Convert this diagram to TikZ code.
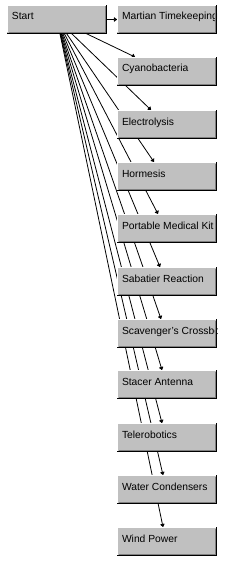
\documentclass[tikz,border=0pt]{standalone}
\usepackage{fontspec}
\setmainfont{Liberation Sans}
\usetikzlibrary{arrows.meta,calc,backgrounds}
\definecolor{face}{HTML}{C0C0C0}
\definecolor{btnshadow}{HTML}{808080}
\definecolor{ink}{HTML}{000000}
\tikzset{
  topic box/.style={draw=none,fill=face,inner sep=0pt,outer sep=0pt,anchor=north west,
    minimum width=100pt,minimum height=29pt,
    path picture={\node[anchor=base west,inner sep=0pt,minimum width=0pt,minimum height=0pt,
        fill=none,draw=none,font=\fontsize{10.3}{12}\selectfont,text=ink]
      at ([shift={(5pt,-15pt)}]path picture bounding box.north west) {#1};}},
  bevel light/.style={white,line width=1pt},
  bevel dark/.style={btnshadow,line width=1pt},
  bevel edge/.style={ink,line width=1pt},
  link/.style={ink,line width=.8pt,-{Latex[round,length=3.5pt,width=5.5pt]}}
}
\begin{document}
\begin{tikzpicture}[x=1pt,y=1pt]
  \path[use as bounding box] (0,0) rectangle (227,-567);

  \node[topic box=Start] (start) at (7,-5) {};
  \node[topic box={Martian Timekeeping}] (martian) at (117,-5) {};
  \node[topic box=Cyanobacteria] (cyano) at (117,-57) {};
  \node[topic box=Electrolysis] (electro) at (117,-110) {};
  \node[topic box=Hormesis] (hormesis) at (117,-162) {};
  \node[topic box={Portable Medical Kit}] (medkit) at (117,-214) {};
  \node[topic box={Sabatier Reaction}] (sabatier) at (117,-267) {};
  \node[topic box={Scavenger's Crossbow}] (crossbow) at (117,-319) {};
  \node[topic box={Stacer Antenna}] (antenna) at (117,-370) {};
  \node[topic box=Telerobotics] (telerob) at (117,-423) {};
  \node[topic box={Water Condensers}] (condenser) at (117,-475) {};
  \node[topic box={Wind Power}] (wind) at (117,-527) {};

  % raised button edges
  \foreach \b in {start,martian,cyano,electro,hormesis,medkit,sabatier,crossbow,antenna,telerob,condenser,wind}{
    \draw[bevel light] ([shift={(.5,1.5)}]\b.south west) -- ([shift={(.5,-.5)}]\b.north west)
      -- ([shift={(-1.5,-.5)}]\b.north east);
    \draw[bevel dark] ([shift={(1.5,1.5)}]\b.south west) -- ([shift={(-1.5,1.5)}]\b.south east)
      -- ([shift={(-1.5,-1.5)}]\b.north east);
    \draw[bevel edge] ([shift={(0,.5)}]\b.south west) -- ([shift={(-.5,.5)}]\b.south east)
      -- ([shift={(-.5,0)}]\b.north east);
  }

  % links run behind the boxes
  \begin{scope}[on background layer]
    \fill[white] (0,0) rectangle (227,-567);
    \draw[link] (start.east) -- (martian.west);
    \draw[link] (start.center) -- ($(cyano.north west)+(18,0)$);
    \draw[link] (start.center) -- ($(electro.north west)+(34,0)$);
    \draw[link] (start.center) -- ($(hormesis.north west)+(37,0)$);
    \draw[link] (start.center) -- ($(medkit.north west)+(41,0)$);
    \draw[link] (start.center) -- ($(sabatier.north west)+(43,0)$);
    \draw[link] (start.center) -- ($(crossbow.north west)+(44,0)$);
    \draw[link] (start.center) -- ($(antenna.north west)+(45,0)$);
    \draw[link] (start.center) -- ($(telerob.north west)+(45,0)$);
    \draw[link] (start.center) -- ($(condenser.north west)+(46,0)$);
    \draw[link] (start.center) -- ($(wind.north west)+(46,0)$);
  \end{scope}
\end{tikzpicture}
\end{document}
